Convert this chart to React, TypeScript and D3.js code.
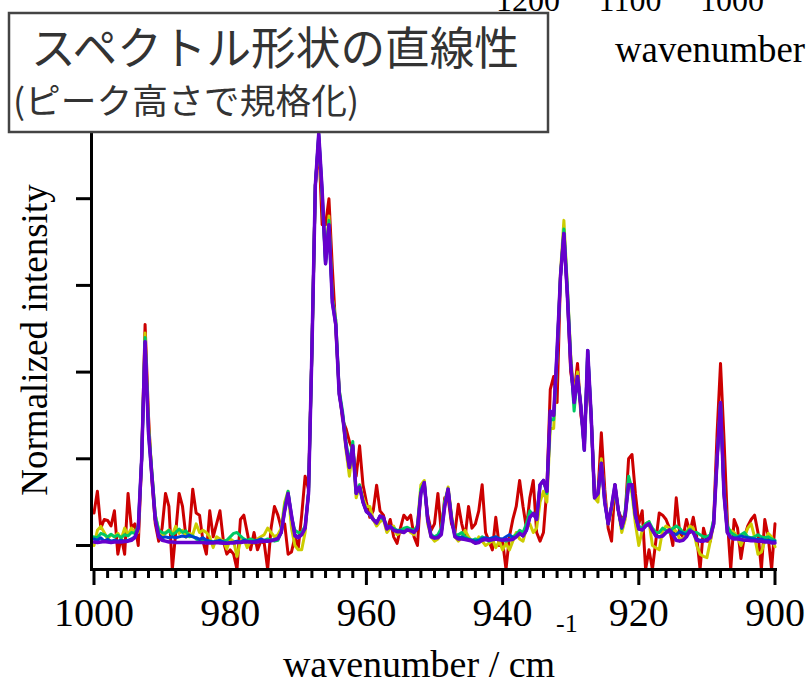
import React from "react";
import * as d3 from "d3";

// sample grid: 1000 → 900 cm^-1, 0.5 cm^-1 step (201 points)
const wnStart = 1000;
const wnStep = -0.5;

const redValues = [
  0.075, 0.125, 0.040, 0.060, 0.058, 0.045, 0.080, -0.020, 0.020, -0.020,
  0.120, 0.040, 0.050, 0.000, 0.200, 0.510, 0.300, 0.150, 0.050, 0.010,
  0.040, 0.120, 0.090, -0.055, 0.030, 0.120, 0.090, 0.020, 0.030, 0.130,
  0.075, 0.070, 0.010, -0.020, 0.080, 0.020, 0.050, 0.080, 0.010, -0.020,
  -0.010, -0.020, -0.055, 0.060, 0.070, 0.030, -0.010, 0.030, -0.010, 0.010,
  0.005, -0.055, 0.040, 0.090, 0.070, 0.040, 0.050, -0.020, -0.015, 0.020,
  -0.005, 0.070, 0.160, 0.130, 0.450, 0.830, 0.930, 0.740, 0.740, 0.800,
  0.640, 0.500, 0.360, 0.290, 0.270, 0.240, 0.220, 0.160, 0.230, 0.140,
  0.100, 0.065, 0.080, 0.139, 0.080, 0.070, 0.035, 0.060, 0.020, 0.005,
  0.040, 0.070, 0.060, 0.070, 0.020, 0.000, 0.130, 0.140, 0.070, 0.035,
  0.050, 0.120, 0.030, 0.110, 0.110, 0.050, 0.030, 0.095, 0.050, 0.020,
  0.090, 0.040, 0.050, 0.080, 0.140, 0.030, 0.010, -0.010, 0.065, 0.000,
  0.010, -0.055, 0.020, 0.060, 0.090, 0.150, 0.090, 0.040, 0.110, 0.150,
  0.030, 0.010, 0.030, 0.130, 0.360, 0.390, 0.330, 0.620, 0.720, 0.580,
  0.400, 0.350, 0.420, 0.300, 0.250, 0.400, 0.300, 0.110, 0.120, 0.260,
  0.130, 0.040, 0.010, 0.140, 0.080, 0.060, 0.070, 0.200, 0.210, 0.120,
  0.050, 0.080, -0.055, -0.010, -0.055, 0.010, 0.075, 0.070, 0.060, 0.040,
  0.000, 0.110, 0.030, 0.020, 0.060, 0.030, 0.065, 0.020, -0.055, 0.040,
  0.010, 0.010, 0.060, 0.260, 0.420, 0.250, 0.060, -0.055, 0.060, 0.040,
  -0.030, 0.020, 0.045, 0.060, 0.070, 0.030, -0.055, 0.060, 0.020, -0.055,
  0.050,
];

const yellowValues = [
  0.000, 0.035, 0.044, 0.030, 0.015, 0.025, 0.020, 0.028, 0.015, 0.040,
  0.025, 0.040, 0.030, 0.030, 0.200, 0.490, 0.280, 0.170, 0.070, 0.035,
  0.020, 0.030, 0.036, 0.025, 0.044, 0.028, 0.035, 0.020, 0.028, 0.025,
  0.050, 0.030, 0.035, 0.030, 0.020, -0.005, 0.020, 0.015, 0.010, -0.008,
  0.015, 0.010, -0.025, 0.010, 0.015, -0.005, 0.010, 0.005, 0.015, 0.020,
  0.025, 0.040, 0.030, 0.020, 0.025, 0.040, 0.100, 0.125, 0.040, 0.000,
  -0.010, -0.010, 0.030, 0.120, 0.450, 0.830, 0.940, 0.800, 0.660, 0.760,
  0.570, 0.520, 0.350, 0.300, 0.220, 0.160, 0.220, 0.110, 0.140, 0.110,
  0.090, 0.090, 0.060, 0.045, 0.055, 0.060, 0.030, 0.040, 0.045, 0.025,
  0.030, 0.030, 0.040, 0.030, 0.025, 0.050, 0.140, 0.150, 0.050, 0.020,
  0.010, 0.015, 0.030, 0.100, 0.135, 0.070, 0.020, 0.010, 0.018, 0.035,
  0.020, 0.010, 0.005, 0.020, 0.010, 0.000, 0.005, 0.015, -0.005, 0.010,
  -0.010, 0.005, -0.010, 0.010, 0.030, 0.015, 0.010, 0.040, 0.050, 0.030,
  0.040, 0.100, 0.125, 0.100, 0.270, 0.270, 0.440, 0.630, 0.750, 0.600,
  0.440, 0.340, 0.400, 0.320, 0.230, 0.440, 0.300, 0.110, 0.100, 0.200,
  0.110, 0.050, 0.080, 0.130, 0.080, 0.030, 0.060, 0.150, 0.120, 0.050,
  0.000, 0.035, 0.050, 0.055, 0.000, -0.005, -0.010, 0.035, 0.045, 0.040,
  0.036, 0.033, 0.015, 0.015, 0.030, 0.045, 0.040, 0.000, -0.020, -0.025,
  -0.028, 0.010, 0.050, 0.200, 0.330, 0.120, 0.030, 0.035, 0.030, 0.020,
  0.000, 0.020, 0.040, 0.050, 0.020, -0.020, -0.015, 0.010, 0.028, 0.020,
  -0.003,
];

const greenValues = [
  0.020, 0.018, 0.028, 0.025, 0.020, 0.026, 0.020, 0.024, 0.018, 0.025,
  0.022, 0.030, 0.028, 0.045, 0.200, 0.480, 0.270, 0.170, 0.070, 0.035,
  0.030, 0.028, 0.035, 0.025, 0.030, 0.038, 0.030, 0.034, 0.020, 0.022,
  0.015, 0.012, 0.010, 0.012, 0.010, 0.008, 0.010, 0.008, 0.010, 0.012,
  0.020, 0.028, 0.030, 0.022, 0.015, 0.012, 0.015, 0.012, 0.010, 0.010,
  0.012, 0.015, 0.012, 0.010, 0.012, 0.030, 0.090, 0.125, 0.065, 0.035,
  0.030, 0.030, 0.045, 0.120, 0.450, 0.830, 0.945, 0.810, 0.650, 0.750,
  0.570, 0.520, 0.360, 0.310, 0.240, 0.190, 0.240, 0.120, 0.140, 0.100,
  0.080, 0.070, 0.060, 0.055, 0.065, 0.060, 0.045, 0.040, 0.040, 0.035,
  0.035, 0.040, 0.042, 0.038, 0.035, 0.045, 0.130, 0.145, 0.060, 0.025,
  0.020, 0.025, 0.040, 0.100, 0.130, 0.065, 0.025, 0.025, 0.030, 0.020,
  0.015, 0.012, 0.015, 0.012, 0.020, 0.015, 0.010, 0.015, 0.020, 0.015,
  0.012, 0.010, 0.013, 0.020, 0.025, 0.035, 0.030, 0.050, 0.080, 0.070,
  0.065, 0.140, 0.150, 0.120, 0.290, 0.290, 0.440, 0.620, 0.730, 0.600,
  0.430, 0.310, 0.390, 0.320, 0.220, 0.450, 0.300, 0.110, 0.120, 0.190,
  0.100, 0.050, 0.090, 0.130, 0.080, 0.040, 0.080, 0.160, 0.130, 0.065,
  0.045, 0.040, 0.050, 0.055, 0.040, 0.030, 0.030, 0.040, 0.035, 0.030,
  0.040, 0.045, 0.040, 0.030, 0.030, 0.038, 0.030, 0.030, 0.025, 0.020,
  0.020, 0.025, 0.060, 0.200, 0.330, 0.130, 0.045, 0.030, 0.025, 0.020,
  0.025, 0.030, 0.020, 0.018, 0.020, 0.025, 0.020, 0.018, 0.020, 0.015,
  0.012,
];

const blueValues = [
  0.015, 0.012, 0.018, 0.010, 0.014, 0.010, 0.012, 0.010, 0.012, 0.010,
  0.012, 0.015, 0.020, 0.040, 0.200, 0.470, 0.260, 0.160, 0.060, 0.025,
  0.018, 0.020, 0.018, 0.020, 0.018, 0.020, 0.022, 0.020, 0.024, 0.020,
  0.018, 0.014, 0.018, 0.012, 0.010, 0.008, 0.010, 0.012, 0.008, 0.006,
  0.007, 0.008, 0.010, 0.008, 0.012, 0.010, 0.008, 0.010, 0.012, 0.015,
  0.012, 0.010, 0.012, 0.014, 0.016, 0.030, 0.080, 0.120, 0.070, 0.025,
  0.020, 0.025, 0.040, 0.120, 0.450, 0.830, 0.950, 0.820, 0.650, 0.740,
  0.560, 0.510, 0.350, 0.300, 0.230, 0.180, 0.230, 0.120, 0.135, 0.100,
  0.078, 0.072, 0.060, 0.052, 0.068, 0.065, 0.040, 0.045, 0.036, 0.034,
  0.034, 0.032, 0.036, 0.034, 0.032, 0.040, 0.120, 0.145, 0.060, 0.022,
  0.018, 0.020, 0.028, 0.090, 0.130, 0.060, 0.022, 0.018, 0.020, 0.016,
  0.014, 0.012, 0.010, 0.012, 0.016, 0.018, 0.015, 0.018, 0.020, 0.016,
  0.015, 0.020, 0.025, 0.018, 0.020, 0.028, 0.022, 0.035, 0.065, 0.074,
  0.060, 0.140, 0.150, 0.125, 0.310, 0.300, 0.450, 0.620, 0.720, 0.580,
  0.420, 0.330, 0.390, 0.320, 0.220, 0.450, 0.300, 0.110, 0.120, 0.190,
  0.100, 0.050, 0.090, 0.140, 0.080, 0.040, 0.070, 0.140, 0.140, 0.070,
  0.038, 0.036, 0.045, 0.050, 0.035, 0.022, 0.020, 0.022, 0.030, 0.036,
  0.028, 0.025, 0.032, 0.028, 0.025, 0.034, 0.030, 0.015, 0.012, 0.012,
  0.014, 0.020, 0.050, 0.200, 0.330, 0.120, 0.030, 0.020, 0.018, 0.018,
  0.022, 0.020, 0.018, 0.016, 0.015, 0.014, 0.015, 0.012, 0.012, 0.010,
  0.010,
];

const purpleValues = [
  0.008, 0.007, 0.008, 0.009, 0.008, 0.007, 0.008, 0.008, 0.008, 0.009,
  0.010, 0.012, 0.018, 0.040, 0.200, 0.470, 0.260, 0.160, 0.060, 0.020,
  0.012, 0.010, 0.008, 0.008, 0.007, 0.007, 0.007, 0.007, 0.007, 0.007,
  0.007, 0.007, 0.007, 0.006, 0.006, 0.006, 0.007, 0.006, 0.005, 0.005,
  0.006, 0.006, 0.007, 0.007, 0.008, 0.008, 0.008, 0.007, 0.008, 0.009,
  0.010, 0.010, 0.011, 0.013, 0.016, 0.030, 0.080, 0.120, 0.070, 0.022,
  0.018, 0.025, 0.040, 0.120, 0.450, 0.830, 0.950, 0.820, 0.650, 0.740,
  0.560, 0.510, 0.350, 0.300, 0.230, 0.180, 0.230, 0.120, 0.135, 0.100,
  0.078, 0.072, 0.060, 0.052, 0.068, 0.065, 0.038, 0.044, 0.035, 0.032,
  0.032, 0.030, 0.036, 0.034, 0.030, 0.040, 0.120, 0.145, 0.060, 0.020,
  0.017, 0.018, 0.025, 0.090, 0.130, 0.060, 0.020, 0.015, 0.015, 0.014,
  0.012, 0.010, 0.005, 0.007, 0.012, 0.014, 0.012, 0.013, 0.015, 0.013,
  0.012, 0.014, 0.013, 0.014, 0.020, 0.028, 0.022, 0.035, 0.065, 0.074,
  0.060, 0.140, 0.150, 0.125, 0.310, 0.300, 0.450, 0.620, 0.720, 0.580,
  0.420, 0.330, 0.390, 0.320, 0.220, 0.450, 0.300, 0.110, 0.120, 0.190,
  0.100, 0.050, 0.090, 0.140, 0.080, 0.043, 0.070, 0.140, 0.140, 0.070,
  0.038, 0.036, 0.045, 0.050, 0.035, 0.022, 0.020, 0.022, 0.030, 0.036,
  0.025, 0.012, 0.010, 0.012, 0.020, 0.034, 0.030, 0.012, 0.010, 0.010,
  0.012, 0.018, 0.050, 0.200, 0.330, 0.120, 0.030, 0.018, 0.015, 0.015,
  0.014, 0.012, 0.012, 0.011, 0.011, 0.010, 0.010, 0.008, 0.008, 0.006,
  0.006,
];

const seriesList = [
  { name: "red", values: redValues, color: "#cc0000", width: 3 },
  { name: "yellow", values: yellowValues, color: "#cccc00", width: 3 },
  { name: "green", values: greenValues, color: "#00c864", width: 3 },
  { name: "blue", values: blueValues, color: "#0040d0", width: 3 },
  { name: "purple", values: purpleValues, color: "#6600cc", width: 3.5 },
];

const xTickMajor = [1000, 980, 960, 940, 920, 900];
const xTickMinor = d3.range(1000, 899, -2);
const yTicks = [0, 0.2, 0.4, 0.6, 0.8, 1.0];
const bgTickLabels = ["1200", "1100", "1000"];

const serif = "'Liberation Serif', 'Times New Roman', serif";
const cjk = "'Noto Sans CJK JP', 'Noto Sans', sans-serif";

export default function App() {
  const W = 806;
  const H = 686;
  const x = d3.scaleLinear().domain([1000, 900]).range([94, 775]);
  const y = d3.scaleLinear().domain([0, 1]).range([545.5, 112]);

  const line = d3
    .line<number>()
    .x((_, i) => x(wnStart + wnStep * i))
    .y((v) => y(v));

  const axisY0 = 569.5;
  const axisX0 = 91.5;

  return (
    <svg
      width={W}
      height={H}
      style={{ position: "absolute", left: 0, top: 0, background: "#fff" }}
    >
      <rect x={0} y={0} width={W} height={H} fill="#fff" />
      <defs>
        <clipPath id="plotClip">
          <rect x={92} y={0} width={690} height={568} />
        </clipPath>
      </defs>

      {/* remnants of the background slide (cut at the top edge) */}
      {bgTickLabels.map((t, i) => (
        <text
          key={t + i}
          x={528 + i * 102}
          y={11}
          fontFamily={serif}
          fontSize={32}
          textAnchor="middle"
          fill="#000"
        >
          {t}
        </text>
      ))}
      <text x={615} y={62} fontFamily={serif} fontSize={37} textLength={190} lengthAdjust="spacingAndGlyphs" fill="#000">
        wavenumber
      </text>

      {/* spectra */}
      <g clipPath="url(#plotClip)">
        {seriesList.map((s) => (
          <path
            key={s.name}
            d={line(s.values) || ""}
            fill="none"
            stroke={s.color}
            strokeWidth={s.width}
            strokeLinejoin="round"
            strokeLinecap="round"
          />
        ))}
      </g>

      {/* axes */}
      <line x1={axisX0} y1={40} x2={axisX0} y2={axisY0 + 1.5} stroke="#000" strokeWidth={3} />
      <line x1={axisX0 - 1.5} y1={axisY0} x2={x(900) + 2} y2={axisY0} stroke="#000" strokeWidth={3} />
      {yTicks.map((t) => (
        <line key={"yt" + t} x1={76} x2={axisX0} y1={y(t)} y2={y(t)} stroke="#000" strokeWidth={3} />
      ))}
      {xTickMinor.map((t) => (
        <line
          key={"xm" + t}
          x1={x(t)}
          x2={x(t)}
          y1={axisY0}
          y2={xTickMajor.includes(t) ? 585 : 578}
          stroke="#000"
          strokeWidth={3}
        />
      ))}
      {xTickMajor.map((t) => (
        <text
          key={"xl" + t}
          x={x(t)}
          y={626}
          fontFamily={serif}
          fontSize={40}
          textAnchor="middle"
          fill="#000"
        >
          {t}
        </text>
      ))}

      {/* axis titles */}
      <text x={419} y={677} fontFamily={serif} fontSize={38} textAnchor="middle" fill="#000">
        wavenumber / cm
      </text>
      <text x={556} y={632} fontFamily={serif} fontSize={26} fill="#000">
        -1
      </text>
      <text
        transform="translate(47,340) rotate(-90)"
        fontFamily={serif}
        fontSize={37}
        textAnchor="middle"
        fill="#000"
      >
        Normalized intensity
      </text>

      {/* title box */}
      <rect x={9} y={13} width={539} height={119} fill="#fff" stroke="#444" strokeWidth={2.5} />
      <text x={31} y={65} fontFamily={cjk} fontSize={45} textLength={488} lengthAdjust="spacingAndGlyphs" fill="#333">
        スペクトル形状の直線性
      </text>
      <text x={13} y={114} fontFamily={cjk} fontSize={35} textLength={346} lengthAdjust="spacingAndGlyphs" fill="#333">
        (ピーク高さで規格化)
      </text>
    </svg>
  );
}
